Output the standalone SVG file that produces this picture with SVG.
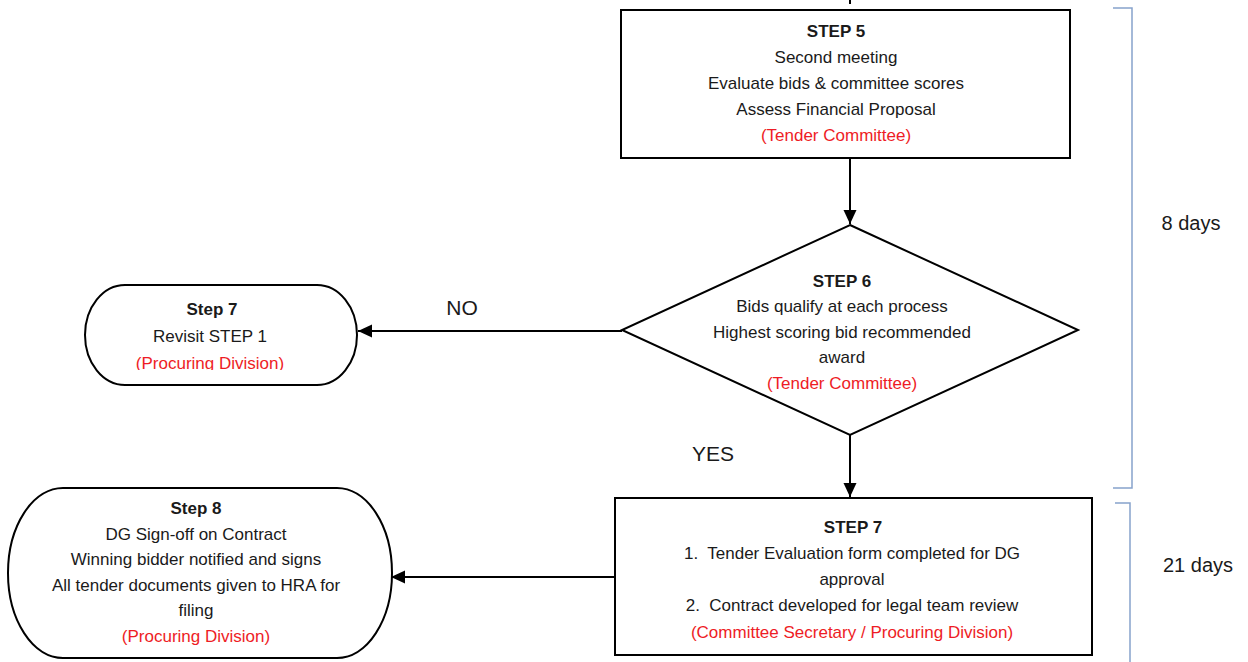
<svg xmlns="http://www.w3.org/2000/svg" width="1248" height="662" viewBox="0 0 1248 662">
<defs>
<style>
.t{font-family:"Liberation Sans",Arial,sans-serif;font-size:17px;fill:#1a1a1a;text-anchor:middle}
.b{font-weight:bold}
.r{fill:#ee1c25}
.lbl{font-family:"Liberation Sans",Arial,sans-serif;font-size:21px;fill:#1a1a1a;text-anchor:middle}
.days{font-family:"Liberation Sans",Arial,sans-serif;font-size:20px;fill:#1a1a1a;text-anchor:middle}
.shape{fill:#fff;stroke:#000;stroke-width:2}
.conn{fill:none;stroke:#000;stroke-width:2}
.brk{fill:none;stroke:#86a2cc;stroke-width:1.5}
</style>
<marker id="ah" markerUnits="userSpaceOnUse" markerWidth="16" markerHeight="14" refX="14" refY="6.5" orient="auto">
<path d="M0,0 L14,6.5 L0,13 z" fill="#000"/>
</marker>
<clipPath id="clip7"><rect x="80" y="280" width="290" height="90"/></clipPath>
</defs>
<rect width="1248" height="662" fill="#fff"/>

<g id="connectors">
<line class="conn" x1="850" y1="0" x2="850" y2="4"/>
<line class="conn" x1="850" y1="158" x2="850" y2="224" marker-end="url(#ah)"/>
<line class="conn" x1="622" y1="331" x2="358" y2="331" marker-end="url(#ah)"/>
<line class="conn" x1="850" y1="435" x2="850" y2="497" marker-end="url(#ah)"/>
<line class="conn" x1="615" y1="577" x2="391" y2="577" marker-end="url(#ah)"/>
<text class="lbl" x="462" y="315">NO</text>
<text class="lbl" x="713" y="461">YES</text>
</g>

<g id="step5">
<rect class="shape" x="621" y="10" width="449" height="148"/>
<text class="t b" x="836" y="37">STEP 5</text>
<text class="t" x="836" y="63">Second meeting</text>
<text class="t" x="836" y="89">Evaluate bids &amp; committee scores</text>
<text class="t" x="836" y="115">Assess Financial Proposal</text>
<text class="t r" x="836" y="141">(Tender Committee)</text>
</g>

<g id="step6">
<polygon class="shape" points="850,225 1078,330 850,435 622,330"/>
<text class="t b" x="842" y="287">STEP 6</text>
<text class="t" x="842" y="312">Bids qualify at each process</text>
<text class="t" x="842" y="338">Highest scoring bid recommended</text>
<text class="t" x="842" y="363">award</text>
<text class="t r" x="842" y="389">(Tender Committee)</text>
</g>

<g id="step7-revisit">
<path class="shape" d="M125,285 H317 A40,50 0 0 1 317,385 H125 A40,50 0 0 1 125,285 Z"/>
<text class="t b" x="212" y="315">Step 7</text>
<text class="t" x="210" y="342">Revisit STEP 1</text>
<text class="t r" x="210" y="369" clip-path="url(#clip7)">(Procuring Division)</text>
</g>

<g id="step7">
<rect class="shape" x="615" y="498" width="477" height="157"/>
<text class="t b" x="853" y="533">STEP 7</text>
<text class="t" x="852" y="559" style="white-space:pre">1.  Tender Evaluation form completed for DG</text>
<text class="t" x="852" y="585">approval</text>
<text class="t" x="852" y="611" style="white-space:pre">2.  Contract developed for legal team review</text>
<text class="t r" x="852" y="638">(Committee Secretary / Procuring Division)</text>
</g>

<g id="step8">
<path class="shape" d="M63,488 H337 A55,85 0 0 1 337,658 H63 A55,85 0 0 1 63,488 Z"/>
<text class="t b" x="196" y="514">Step 8</text>
<text class="t" x="196" y="540">DG Sign-off on Contract</text>
<text class="t" x="196" y="565">Winning bidder notified and signs</text>
<text class="t" x="196" y="591">All tender documents given to HRA for</text>
<text class="t" x="196" y="616">filing</text>
<text class="t r" x="196" y="642">(Procuring Division)</text>
</g>

<g id="durations">
<path class="brk" d="M1113,8 H1132 V488 H1113"/>
<text class="days" x="1191" y="230">8 days</text>
<path class="brk" d="M1115,503 H1130 V662"/>
<text class="days" x="1198" y="572">21 days</text>
</g>
</svg>
